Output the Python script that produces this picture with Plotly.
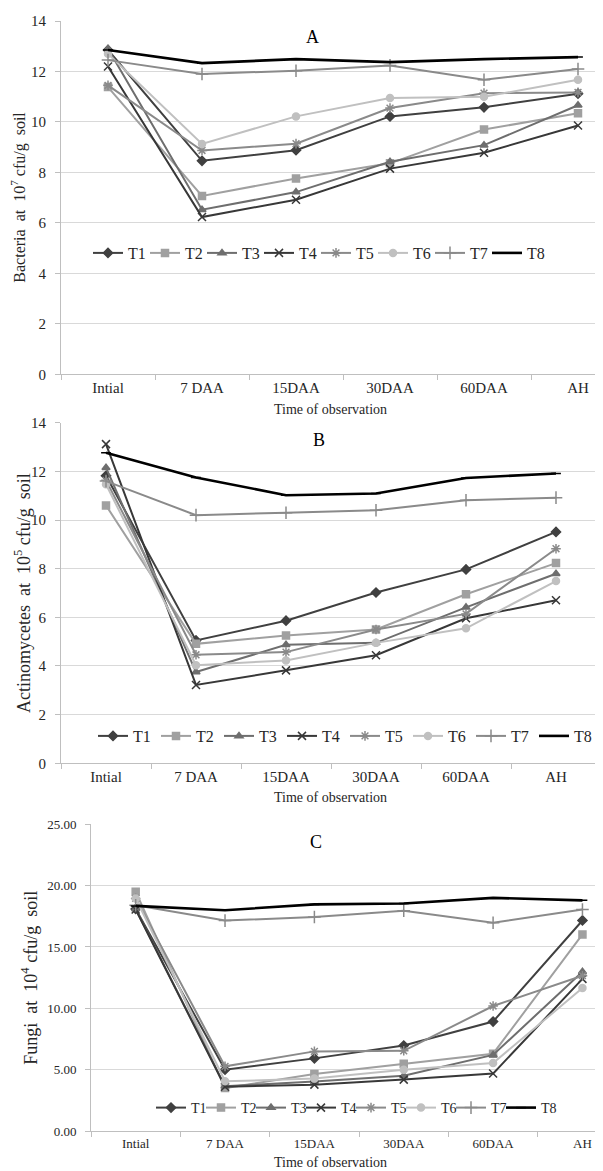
import plotly.graph_objects as go

# page body has an 8px margin, so the figure is offset by 8px
OFF = 8
W, H = 603 - OFF, 1171 - OFF

categories = ["Intial", "7 DAA", "15DAA", "30DAA", "60DAA", "AH"]
series_names = ["T1", "T2", "T3", "T4", "T5", "T6", "T7", "T8"]

bacteria_T1 = [12.85, 8.46, 8.88, 10.22, 10.58, 11.12]
bacteria_T2 = [11.38, 7.07, 7.76, 8.36, 9.70, 10.34]
bacteria_T3 = [12.90, 6.52, 7.22, 8.42, 9.08, 10.66]
bacteria_T4 = [12.20, 6.23, 6.92, 8.15, 8.78, 9.86]
bacteria_T5 = [11.45, 8.87, 9.14, 10.55, 11.14, 11.17]
bacteria_T6 = [12.70, 9.13, 10.22, 10.95, 11.00, 11.67]
bacteria_T7 = [12.45, 11.90, 12.03, 12.24, 11.67, 12.10]
bacteria_T8 = [12.85, 12.33, 12.49, 12.37, 12.49, 12.57]

actino_T1 = [11.82, 5.05, 5.86, 7.02, 7.97, 9.51]
actino_T2 = [10.60, 4.91, 5.25, 5.50, 6.95, 8.23]
actino_T3 = [12.15, 3.75, 4.87, 4.95, 6.41, 7.79]
actino_T4 = [13.12, 3.22, 3.82, 4.44, 5.96, 6.70]
actino_T5 = [11.63, 4.46, 4.57, 5.50, 6.14, 8.82]
actino_T6 = [11.47, 4.03, 4.23, 4.95, 5.55, 7.49]
actino_T7 = [11.60, 10.20, 10.30, 10.40, 10.81, 10.92]
actino_T8 = [12.76, 11.75, 11.02, 11.09, 11.73, 11.91]

fungi_T1 = [18.10, 5.00, 5.92, 6.97, 8.92, 17.16]
fungi_T2 = [19.50, 3.50, 4.65, 5.49, 6.30, 16.02]
fungi_T3 = [18.10, 3.65, 4.03, 4.51, 6.20, 12.98]
fungi_T4 = [18.05, 3.60, 3.78, 4.19, 4.68, 12.40]
fungi_T5 = [18.96, 5.27, 6.49, 6.54, 10.19, 12.66]
fungi_T6 = [18.96, 4.05, 4.27, 5.00, 5.54, 11.65]
fungi_T7 = [18.40, 17.15, 17.44, 17.95, 16.97, 18.06]
fungi_T8 = [18.35, 18.00, 18.47, 18.55, 19.00, 18.80]

bacteria = [bacteria_T1, bacteria_T2, bacteria_T3, bacteria_T4,
            bacteria_T5, bacteria_T6, bacteria_T7, bacteria_T8]
actino = [actino_T1, actino_T2, actino_T3, actino_T4,
          actino_T5, actino_T6, actino_T7, actino_T8]
fungi = [fungi_T1, fungi_T2, fungi_T3, fungi_T4,
         fungi_T5, fungi_T6, fungi_T7, fungi_T8]

colors = ["#404040", "#a0a0a0", "#6e6e6e", "#383838",
          "#8a8a8a", "#c0c0c0", "#8a8a8a", "#000000"]
symbols = ["diamond", "square", "triangle-up", "x-thin-open",
           "asterisk-open", "circle", "cross-thin-open", "line-ew-open"]
msizes = [7, 7, 7, 8, 8, 7, 9, 7]
lwidths = [2, 2, 2, 2, 2, 2, 2, 2.6]

FONT = "Liberation Serif, Times New Roman, serif"

def px(x):
    return (x - OFF) / W

def py(y):
    return 1 - (y - OFF) / H

panels = [
    dict(data=bacteria, xdom=[px(61), 1.0], xr=[-0.5, 5.266],
         ydom=[py(374.3), py(21)], yr=[0, 14], dtick=2, fmt="d",
         tfs=15, lfs=16, legy=253, legx=88, entry=12,
         title="A", tx=312, ty=37,
         ytitle="Bacteria  at  10<sup>7</sup> cfu/g  soil", ytx=19, yts=16,
         xt_y=410),
    dict(data=actino, xdom=[px(61), px(601)], xr=[-0.5, 5.5],
         ydom=[py(763.3), py(422.7)], yr=[0, 14], dtick=2, fmt="d",
         tfs=15, lfs=16, legy=736, legx=93, entry=18,
         title="B", tx=319, ty=440,
         ytitle="Actinomycetes  at  10<sup>5</sup> cfu/g  soil", ytx=22, yts=18,
         xt_y=797),
    dict(data=fungi, xdom=[px(91), 1.0], xr=[-0.5, 5.23],
         ydom=[py(1131), py(824.3)], yr=[0, 25], dtick=5, fmt=".2f",
         tfs=13, lfs=14, legy=1108, legx=151, entry=5,
         title="C", tx=316, ty=842,
         ytitle="Fungi  at  10<sup>4</sup> cfu/g  soil", ytx=30, yts=18,
         xt_y=1162),
]

fig = go.Figure()
layout = dict(width=W, height=H, margin=dict(l=0, r=0, t=0, b=0, autoexpand=False),
              paper_bgcolor="white", plot_bgcolor="white", template="none",
              font=dict(family=FONT, color="#262626"), showlegend=True)
annotations = []

for i, p in enumerate(panels):
    k = "" if i == 0 else str(i + 1)
    legname = "legend" + k
    for j, name in enumerate(series_names):
        fig.add_trace(go.Scatter(
            x=categories, y=p["data"][j], name=name, mode="lines+markers",
            xaxis="x" + k, yaxis="y" + k, legend=legname,
            line=dict(color=colors[j], width=lwidths[j]),
            marker=dict(symbol=symbols[j], size=msizes[j], color=colors[j],
                        line=dict(color=colors[j], width=1.5)),
        ))
    # empty spacer entry so the last legend label is not clipped
    fig.add_trace(go.Scatter(
        x=[None], y=[None], name=" ", mode="lines", xaxis="x" + k, yaxis="y" + k,
        legend=legname, line=dict(width=0, color="rgba(0,0,0,0)"),
        hoverinfo="skip"))
    layout["xaxis" + k] = dict(
        domain=p["xdom"], range=p["xr"], anchor="y" + k, type="category",
        showgrid=False, showline=True, linecolor="#bfbfbf", linewidth=1,
        ticks="outside", tickson="boundaries", ticklen=5, tickcolor="#bfbfbf",
        tickfont=dict(family=FONT, size=p["tfs"], color="#262626"),
        zeroline=False, fixedrange=True, automargin=False)
    layout["yaxis" + k] = dict(
        domain=p["ydom"], range=p["yr"], anchor="x" + k, dtick=p["dtick"],
        tickformat=p["fmt"], showgrid=True, gridcolor="#d9d9d9", gridwidth=1,
        showline=True, linecolor="#bfbfbf", linewidth=1,
        ticks="outside", ticklen=5, tickcolor="#bfbfbf", ticklabelstandoff=6,
        tickfont=dict(family=FONT, size=p["tfs"], color="#262626"),
        zeroline=False, fixedrange=True, automargin=False)
    layout[legname] = dict(
        orientation="h", x=px(p["legx"]), y=py(p["legy"]),
        xanchor="left", yanchor="middle", bgcolor="rgba(0,0,0,0)",
        font=dict(family=FONT, size=p["lfs"], color="#262626"),
        entrywidth=p["entry"], entrywidthmode="pixels", itemwidth=30,
        tracegroupgap=0)
    annotations.append(dict(
        text=p["title"], x=px(p["tx"]), y=py(p["ty"]), xref="paper", yref="paper",
        showarrow=False, font=dict(family=FONT, size=18, color="#000000"),
        xanchor="center", yanchor="middle"))
    ymid = (p["ydom"][0] + p["ydom"][1]) / 2
    annotations.append(dict(
        text=p["ytitle"], x=px(p["ytx"]), y=ymid, xref="paper", yref="paper",
        showarrow=False, textangle=-90, borderpad=0,
        font=dict(family=FONT, size=p["yts"], color="#262626"),
        xanchor="center", yanchor="middle"))
    annotations.append(dict(
        text="Time of observation", x=px(330), y=py(p["xt_y"]),
        xref="paper", yref="paper", showarrow=False, borderpad=0,
        font=dict(family=FONT, size=14, color="#262626"),
        xanchor="center", yanchor="middle"))

layout["annotations"] = annotations
fig.update_layout(**layout)
fig.write_html("out.html")
